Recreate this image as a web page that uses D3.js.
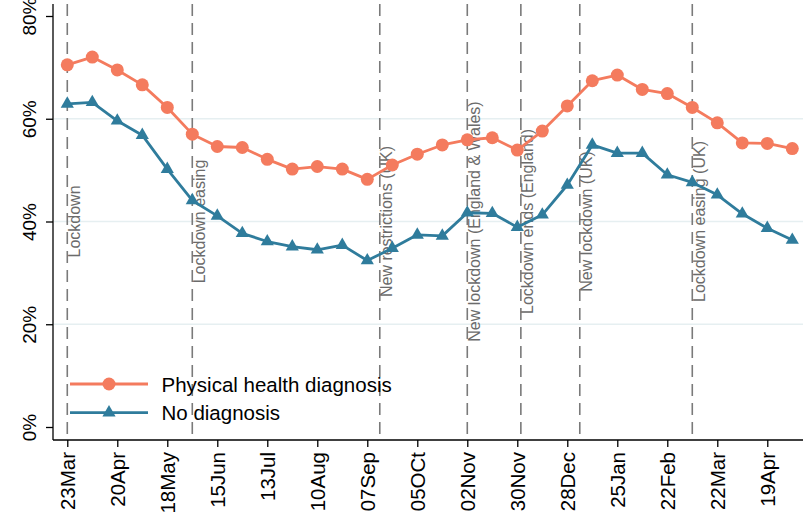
<!DOCTYPE html>
<html><head><meta charset="utf-8">
<script src="https://cdn.jsdelivr.net/npm/d3@7"></script>
<style>body{margin:0;background:#fff}svg{display:block;font-family:"Liberation Sans",Arial,sans-serif}</style>
</head><body><svg id="c" width="810" height="515"></svg>
<script>
const startDate = "2020-03-23";
const physical = [70.5,72.0,69.5,66.6,62.2,57.0,54.6,54.4,52.1,50.2,50.7,50.2,48.2,51.0,53.1,54.9,55.9,56.3,53.9,57.6,62.5,67.4,68.5,65.7,64.9,62.2,59.2,55.3,55.2,54.2];
const noDiag = [62.9,63.2,59.6,56.8,50.2,44.1,41.1,37.7,36.1,35.1,34.5,35.4,32.4,34.8,37.4,37.2,41.7,41.6,38.9,41.3,47.1,54.9,53.3,53.3,49.1,47.6,45.2,41.5,38.7,36.4];
const tickDates = ["2020-03-23","2020-04-20","2020-05-18","2020-06-15","2020-07-13","2020-08-10","2020-09-07","2020-10-05","2020-11-02","2020-11-30","2020-12-28","2021-01-25","2021-02-22","2021-03-22","2021-04-19"];
const tickLabels = ["23Mar","20Apr","18May","15Jun","13Jul","10Aug","07Sep","05OCt","02Nov","30Nov","28Dec","25Jan","22Feb","22Mar","19Apr"];
const eventDates = ["2020-03-23","2020-06-01","2020-09-14","2020-11-02","2020-12-02","2021-01-04","2021-03-08"];
const eventLabels = ["Lockdown","Lockdown easing","New restrictions (UK)","New lockdown (England & Wales)","Lockdown ends (England)","New lockdown (UK)","Lockdown easing (UK)"];
const yTicks = [0,20,40,60,80];
const seriesNames = ["Physical health diagnosis","No diagnosis"];
const colors = ["#F47B5E","#2F7C9C"];

const parse = d3.utcParse("%Y-%m-%d");
const t0 = parse(startDate);
const dates = physical.map((_, i) => d3.utcDay.offset(t0, i * 14));

const svg = d3.select("#c");
const L = 53, R = 803, T = 4, B = 440;
const x = d3.scaleUtc()
  .domain([d3.utcDay.offset(t0, -7.7), d3.utcDay.offset(t0, 412.3)])
  .range([L, R]);
const y = d3.scaleLinear().domain([0, 80]).range([427, 16]);

// gridlines
svg.append("g").selectAll("line").data([20,40,60]).join("line")
  .attr("x1", L + 1).attr("x2", R).attr("y1", d => y(d)).attr("y2", d => y(d))
  .attr("stroke", "#e6eff1").attr("stroke-width", 1.5);

// event lines
const ev = svg.append("g");
ev.selectAll("line").data(eventDates).join("line")
  .attr("x1", d => x(parse(d))).attr("x2", d => x(parse(d)))
  .attr("y1", T).attr("y2", B)
  .attr("stroke", "#7a7a7a").attr("stroke-width", 1.6).attr("stroke-dasharray", "12,7");
ev.selectAll("text").data(eventDates).join("text")
  .attr("transform", d => `translate(${x(parse(d)) + 12.5},${y(40)}) rotate(-90)`)
  .attr("text-anchor", "middle")
  .attr("fill", "#6b6b6b").attr("font-size", 16)
  .text((d, i) => eventLabels[i]);

// axes
const yAxis = svg.append("g").attr("transform", `translate(${L},0)`)
  .call(d3.axisLeft(y).tickValues(yTicks).tickFormat(d => d + "%").tickSize(7).tickPadding(0));
yAxis.select(".domain").attr("d", `M0,${T}V${B}`).attr("stroke", "#000").attr("stroke-width", 1.3);
yAxis.selectAll(".tick line").attr("stroke", "#000").attr("stroke-width", 1.3);
yAxis.selectAll(".tick text")
  .attr("transform", "rotate(-90)").attr("x", 0).attr("y", -17).attr("dy", 0)
  .attr("text-anchor", "middle").attr("font-size", 19).attr("fill", "#000")
  .style("font-family", '"Liberation Sans",Arial,sans-serif');

const xAxis = svg.append("g").attr("transform", `translate(0,${B})`)
  .call(d3.axisBottom(x).tickValues(tickDates.map(parse)).tickFormat((d, i) => tickLabels[i]).tickSize(7).tickPadding(0));
xAxis.select(".domain").attr("d", `M${L},0H${R}`).attr("stroke", "#000").attr("stroke-width", 1.3);
xAxis.selectAll(".tick line").attr("stroke", "#000").attr("stroke-width", 1.3);
xAxis.selectAll(".tick text")
  .attr("transform", "rotate(-90)").attr("x", -12).attr("y", 7.5).attr("dy", 0)
  .attr("text-anchor", "end").attr("font-size", 20.5).attr("fill", "#000")
  .style("font-family", '"Liberation Sans",Arial,sans-serif');

// series
const line = d3.line().x((d, i) => x(dates[i])).y(d => y(d));
[physical, noDiag].forEach((vals, s) => {
  svg.append("path").datum(vals).attr("d", line)
    .attr("fill", "none").attr("stroke", colors[s]).attr("stroke-width", 2.8).attr("stroke-linejoin", "round");
});
svg.append("g").selectAll("circle").data(physical).join("circle")
  .attr("cx", (d, i) => x(dates[i])).attr("cy", d => y(d)).attr("r", 6.5).attr("fill", colors[0]);
const tri = d3.symbol().type(d3.symbolTriangle).size(75);
svg.append("g").selectAll("path").data(noDiag).join("path")
  .attr("d", tri).attr("transform", (d, i) => `translate(${x(dates[i])},${y(d)})`).attr("fill", colors[1]);

// legend
const lg = svg.append("g");
const ly = [384, 412.7];
seriesNames.forEach((name, s) => {
  lg.append("line").attr("x1", 70).attr("x2", 148).attr("y1", ly[s]).attr("y2", ly[s])
    .attr("stroke", colors[s]).attr("stroke-width", 2.8);
  if (s === 0) lg.append("circle").attr("cx", 109).attr("cy", ly[s]).attr("r", 6.5).attr("fill", colors[s]);
  else lg.append("path").attr("d", tri).attr("transform", `translate(109,${ly[s]})`).attr("fill", colors[s]);
  lg.append("text").attr("x", 161.5).attr("y", ly[s] + 7.5).attr("font-size", 20.5).attr("fill", "#000").text(name);
});
</script></body></html>
